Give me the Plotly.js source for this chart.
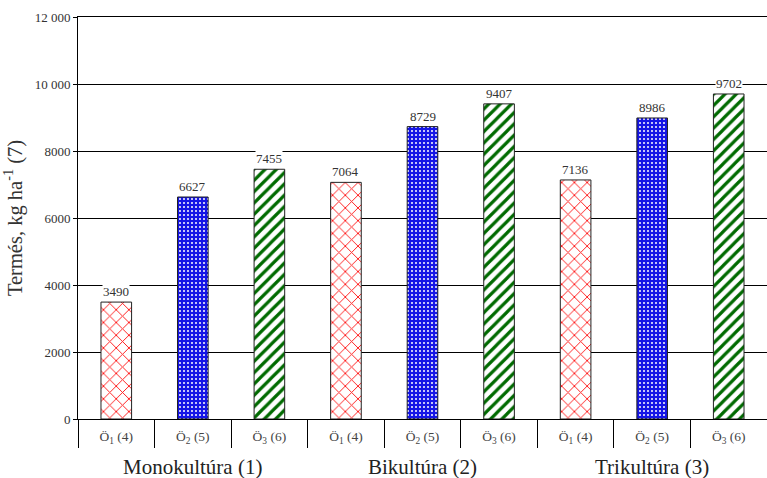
<!DOCTYPE html>
<html><head><meta charset="utf-8">
<script src="https://cdn.plot.ly/plotly-3.0.1.min.js"></script>
<style>html,body{margin:0;padding:0;background:#fff}</style>
</head><body>
<div id="chart" style="width:767px;height:478px"></div>
<script>
var groups = ["Monokultúra (1)", "Bikultúra (2)", "Trikultúra (3)"];
var seriesNames = ["Ö<sub>1</sub> (4)", "Ö<sub>2</sub> (5)", "Ö<sub>3</sub> (6)"];
var o1 = [3490, 7064, 7136];
var o2 = [6627, 8729, 8986];
var o3 = [7455, 9407, 9702];
var yTickVals = [0, 2000, 4000, 6000, 8000, 10000, 12000];
var yTickText = ["0", "2000", "4000", "6000", "8000", "10 000", "12 000"];

var seriesValues = [o1, o2, o3];
var patterns = [
  {shape: "x", fgcolor: "#ff1a1a", bgcolor: "#ffffff", size: 9, solidity: 0.2},
  {shape: ".", fgcolor: "#ffffff", bgcolor: "#1515e6", size: 4, solidity: 0.2},
  {shape: "/", fgcolor: "#006a00", bgcolor: "#ffffff", size: 8, solidity: 0.4}
];
var FONT = "Liberation Serif, Times New Roman, serif";
var nS = seriesNames.length;
var traces = [];
var annotations = [];
var tickVals = [], tickText = [];
for (var g = 0; g < groups.length; g++) {
  for (var k = 0; k < nS; k++) {
    tickVals.push(g * nS + k);
    tickText.push(seriesNames[k]);
  }
  annotations.push({
    x: g * nS + (nS - 1) / 2, xref: "x", y: -0.119, yref: "paper",
    text: groups[g], showarrow: false, yanchor: "middle",
    font: {family: FONT, size: 21, color: "#222"}
  });
}
for (var k = 0; k < nS; k++) {
  var xs = [];
  for (var g = 0; g < groups.length; g++) {
    xs.push(g * nS + k);
    annotations.push({
      x: g * nS + k, xref: "x", y: seriesValues[k][g], yref: "y",
      text: String(seriesValues[k][g]), showarrow: false,
      yanchor: "bottom", yshift: 2, bgcolor: "#ffffff", borderpad: 0,
      font: {family: FONT, size: 13, color: "#333"}
    });
  }
  traces.push({
    type: "bar", x: xs, y: seriesValues[k], name: seriesNames[k],
    width: 0.4,
    marker: {color: patterns[k].bgcolor, pattern: patterns[k],
             line: {color: "#222", width: 1}},
    hoverinfo: "none"
  });
}

var layout = {
  width: 767, height: 478,
  margin: {l: 78, r: 0, t: 17, b: 59},
  paper_bgcolor: "#fff", plot_bgcolor: "#fff",
  showlegend: false,
  barmode: "overlay",
  font: {family: FONT, color: "#333"},
  xaxis: {
    range: [-0.5, groups.length * nS - 0.5],
    tickmode: "array", tickvals: tickVals, ticktext: tickText,
    ticks: "", showgrid: false, zeroline: false,
    showline: true, linecolor: "#000", linewidth: 1, mirror: true,
    ticklabelstandoff: 5,
    tickfont: {family: FONT, size: 13.5, color: "#444"},
    minor: {tick0: -0.5, dtick: 1, ticks: "outside", ticklen: 28,
            tickcolor: "#000", tickwidth: 1, showgrid: false}
  },
  yaxis: {
    range: [0, 12000],
    tickmode: "array", tickvals: yTickVals, ticktext: yTickText,
    ticks: "outside", ticklen: 4, tickcolor: "#000",
    showgrid: true, gridcolor: "#000", gridwidth: 1,
    zeroline: false, showline: true, linecolor: "#000", linewidth: 1,
    tickfont: {family: FONT, size: 13, color: "#333"},
    title: {text: "Termés, kg ha<sup>-1</sup> (7)", standoff: 8,
            font: {family: FONT, size: 20.5, color: "#333"}}
  },
  annotations: annotations
};
Plotly.newPlot("chart", traces, layout, {displayModeBar: false, staticPlot: true});
</script>
</body></html>
